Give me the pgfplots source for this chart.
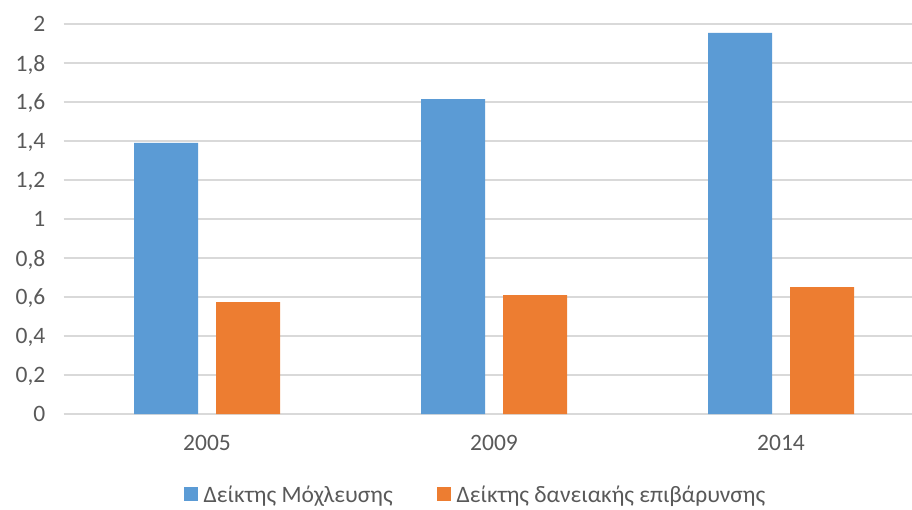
\documentclass[border=0pt]{standalone}
\usepackage{pgfplots}
\pgfplotsset{compat=1.18}
\usepackage{fontspec}
\setmainfont{Carlito}
\definecolor{cblue}{HTML}{5B9BD5}
\definecolor{corange}{HTML}{ED7D31}
\definecolor{cgrid}{HTML}{D9D9D9}
\definecolor{ctext}{HTML}{595959}
\begin{document}
\begin{tikzpicture}[x=1pt,y=1pt]
\useasboundingbox (0,0) rectangle (912,509);
\begin{axis}[
  at={(63.5pt,95pt)}, anchor=south west,
  x=287pt, y=195pt,
  xmin=-0.5, xmax=2.456, ymin=0, ymax=2,
  ybar=18pt, bar width=64pt,
  xtick=data, xticklabels={2005,2009,2014},
  ytick={0,0.2,...,2.01},
  ymajorgrids, grid style={cgrid, line width=1.5pt},
  major tick length=0pt,
  axis line style={draw=none},
  clip=false,
  /pgf/number format/assume math mode=true,
  /pgf/number format/use comma,
  /pgf/number format/fixed,
  tick label style={font=\fontsize{23.5}{28}\selectfont, text=ctext},
  yticklabel style={inner sep=0pt, anchor=east, xshift=-18pt, text depth=0pt},
  xticklabel style={inner sep=0pt, anchor=north, yshift=-21pt},
  legend style={at={(0.4856,-0.2077)}, anchor=center, draw=none, legend columns=2,
    font=\fontsize{23.5}{28}\selectfont, text=ctext,
    /tikz/every even column/.append style={column sep=42pt}},
  legend image code/.code={\fill[#1,draw=none] (0pt,-6pt) rectangle (14pt,8pt); \path (18pt,0pt);},
]
\addplot[fill=cblue, draw=none] coordinates {(0,1.39) (1,1.615) (2,1.954)};
\addplot[fill=corange, draw=none] coordinates {(0,0.574) (1,0.61) (2,0.651)};
\legend{Δείκτης Μόχλευσης, Δείκτης δανειακής επιβάρυνσης}
\end{axis}
\end{tikzpicture}
\end{document}
